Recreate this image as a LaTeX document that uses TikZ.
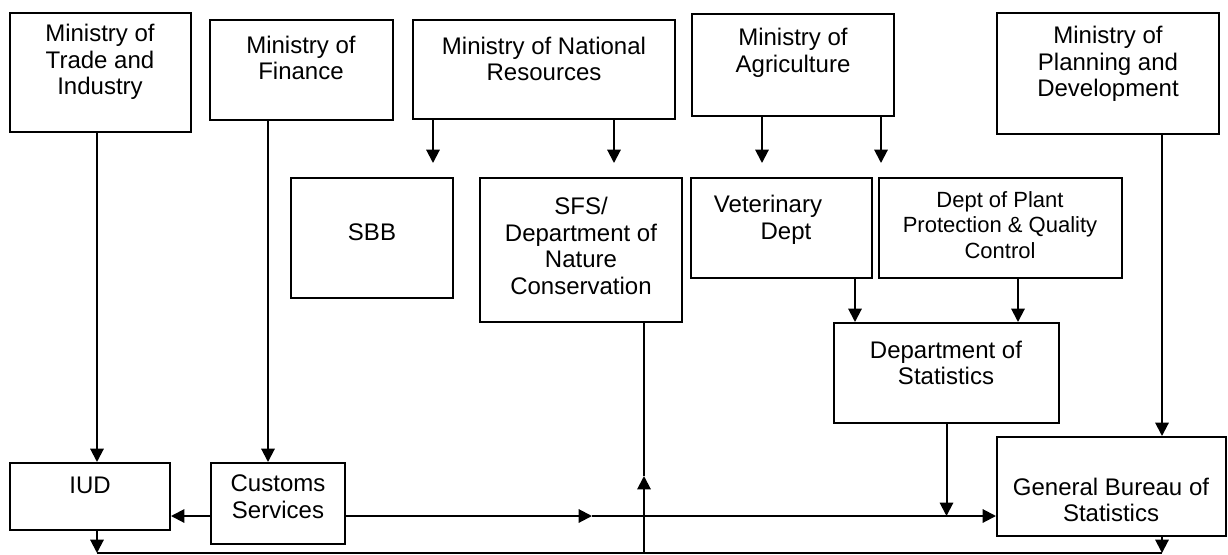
\documentclass[tikz,border=0pt]{standalone}
\usepackage{fontspec}
\setmainfont{Liberation Sans}
\usetikzlibrary{arrows.meta,fit}

\tikzset{
  box/.style={draw, line width=1.5pt, inner sep=0pt},
  lbl/.style={align=center, inner sep=0pt, font=\fontsize{18}{20}\selectfont},
  small/.style={align=center, inner sep=0pt, font=\fontsize{16.5}{19}\selectfont},
  ln/.style={line width=1.5pt},
  arr/.style={line width=1.5pt, -{Triangle[length=10pt,width=10pt]}}
}

\begin{document}
\begin{tikzpicture}[x=0.75pt,y=0.75pt,yscale=-1,xscale=1]
    \useasboundingbox (0,0) rectangle (1228,554);
    
    % ministries
    \node[box, fit={(10,13) (191,132)}] (trade) {};
    \node[box, fit={(210,20) (393,120)}] (fin) {};
    \node[box, fit={(413,20) (675,119)}] (natres) {};
    \node[box, fit={(692,14) (894,116)}] (agri) {};
    \node[box, fit={(997,13) (1219,134)}] (plan) {};
    
    % departments
    \node[box, fit={(291,178) (453,298)}] (sbb) {};
    \node[box, fit={(480,178) (682,322)}] (sfs) {};
    \node[box, fit={(691,178) (872,278)}] (vet) {};
    \node[box, fit={(879,178) (1122,278)}] (plant) {};
    \node[box, fit={(834,323) (1059,423)}] (dos) {};
    \node[box, fit={(10,463) (170,530)}] (iud) {};
    \node[box, fit={(211,463) (345,544)}] (cust) {};
    \node[box, fit={(997,437) (1226,536)}] (gbs) {};
    
    % texts
    \node[lbl] (tradet) at (100,62) {Ministry of\\Trade and\\Industry};
    \node[lbl] (fint) at (301,58) {Ministry of\\Finance};
    \node[lbl] (natrest) at (544,59) {Ministry of National\\Resources};
    \node[lbl] (agrit) at (793,53) {Ministry of\\Agriculture};
    \node[lbl] (plant-t) at (1108,64) {Ministry of\\Planning and\\Development};
    \node[lbl] (sbbt) at (372,232) {SBB};
    \node[lbl] (sfst) at (581,246) {SFS/\\Department of\\Nature\\Conservation};
    \node[lbl] (vett) at (768,220) {Veterinary\\\hspace*{1.5em}Dept};
    \node[small] (plantt) at (1000,225) {Dept of Plant\\Protection \& Quality\\Control};
    \node[lbl] (dost) at (946,363) {Department of\\Statistics};
    \node[lbl] (iudt) at (90,485) {IUD};
    \node[lbl] (custt) at (278,497) {Customs\\Services};
    \node[lbl] (gbst) at (1111,500) {General Bureau of\\Statistics};
    
    % helper coordinates
    \coordinate (tcol) at (97,0);
    \coordinate (fcol) at (268,0);
    \coordinate (n1) at (433,163);
    \coordinate (n2) at (614,163);
    \coordinate (a1) at (762,163);
    \coordinate (a2) at (881,163);
    \coordinate (vcol) at (855,0);
    \coordinate (pcol) at (1018,0);
    \coordinate (gcol) at (1162,0);
    \coordinate (scol) at (644,0);
    \coordinate (row) at (0,516);
    \coordinate (base) at (0,553);
    \coordinate (midr) at (592,516);
    \coordinate (midu) at (644,476);
    
    % ministry to department
    \draw[arr] (trade.south -| tcol) -- (iud.north -| tcol);
    \draw[arr] (fin.south -| fcol) -- (cust.north -| fcol);
    \draw[arr] (natres.south -| n1) -- (n1);
    \draw[arr] (natres.south -| n2) -- (n2);
    \draw[arr] (agri.south -| a1) -- (a1);
    \draw[arr] (agri.south -| a2) -- (a2);
    \draw[arr] (plan.south -| gcol) -- (gbs.north -| gcol);
    \draw[arr] (vet.south -| vcol) -- (dos.north -| vcol);
    \draw[arr] (plant.south -| pcol) -- (dos.north -| pcol);
    
    % customs flows
    \draw[arr] (cust.west |- row) -- (iud.east |- row);
    \draw[arr] (cust.east |- row) -- (midr);
    \draw[arr] (midr) -- (gbs.west |- row);
    \draw[arr] (dos.south) -- (dos.south |- row);
    
    % bottom line back to SFS
    \draw[arr] (iud.south -| tcol) -- (tcol |- base);
    \draw[arr] (gbs.south -| gcol) -- (gcol |- base);
    \draw[ln] (tcol |- base) -- (gcol |- base);
    \draw[arr] (scol |- base) -- (midu);
    \draw[ln] (midu) -- (sfs.south -| scol);
    
\end{tikzpicture}
\end{document}
